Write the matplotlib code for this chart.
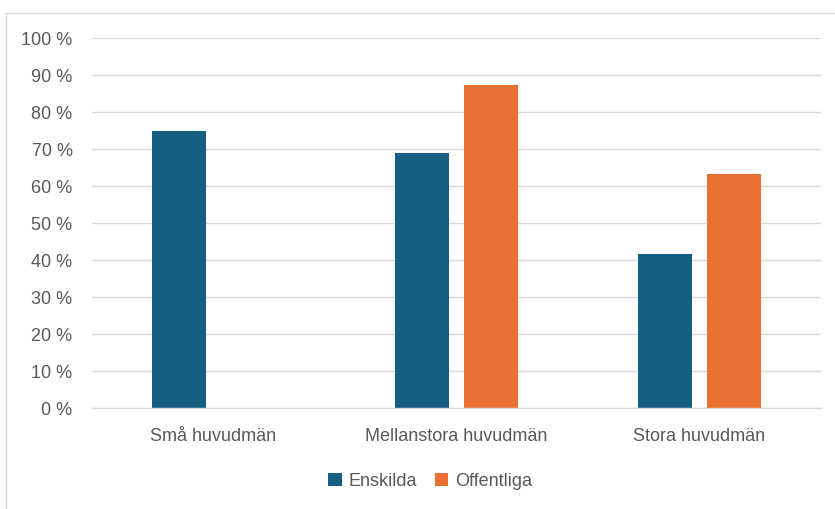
import matplotlib
matplotlib.use("Agg")
import matplotlib.pyplot as plt
import numpy as np
from matplotlib.patches import Rectangle, Patch
from matplotlib.ticker import FuncFormatter

categories = ["Små huvudmän", "Mellanstora huvudmän", "Stora huvudmän"]
series_names = ["Enskilda", "Offentliga"]
enskilda = [74.9, 69.0, 41.6]
offentliga = [np.nan, 87.4, 63.3]
yticks = list(range(0, 101, 10))

colors = ["#156082", "#E97132"]
text_color = "#595959"
grid_color = "#D9D9D9"

fonts = ["Liberation Sans Narrow", "Liberation Sans", "DejaVu Sans"]
plt.rcParams["font.family"] = fonts

fig = plt.figure(figsize=(8.35, 5.09), dpi=100)
W, H = 835, 509
ax = fig.add_axes([92 / W, 1 - 408.3 / H, (821 - 92) / W, (408.3 - 38.3) / H])

x = np.arange(len(categories))
bw = 0.222
off = 0.142
ax.bar(x - off, enskilda, width=bw, color=colors[0], zorder=3)
ax.bar(x + off, offentliga, width=bw, color=colors[1], zorder=3)

ax.set_xlim(-0.5, 2.5)
ax.set_ylim(0, 100)
ax.set_yticks(yticks)
ax.yaxis.set_major_formatter(FuncFormatter(lambda v, p: f"{int(v)} %"))
ax.set_xticks(x)
ax.set_xticklabels(categories)
ax.grid(axis="y", color=grid_color, linewidth=1.0, zorder=0)
for s in ["top", "right", "left"]:
    ax.spines[s].set_visible(False)
ax.spines["bottom"].set_color(grid_color)
ax.spines["bottom"].set_linewidth(1.0)
ax.spines["bottom"].set_zorder(4)
ax.tick_params(axis="both", length=0, colors=text_color, labelsize=13)
ax.tick_params(axis="y", pad=14)
ax.tick_params(axis="x", pad=14)

handles = [Patch(facecolor=c, edgecolor="none") for c in colors]
leg = fig.legend(handles, series_names, loc="center", bbox_to_anchor=(430 / W, 1 - 481 / H),
                 ncol=2, frameon=False, fontsize=13, handlelength=0.75, handleheight=0.75,
                 handletextpad=0.35, columnspacing=1.0)
for t in leg.get_texts():
    t.set_color(text_color)

fig.patches.append(Rectangle((6 / W, -0.1), 1.2, 1 - 13 / H + 0.1, transform=fig.transFigure,
                             fill=False, edgecolor="#D9D9D9", linewidth=1.0))

fig.savefig("out.png", dpi=100)
